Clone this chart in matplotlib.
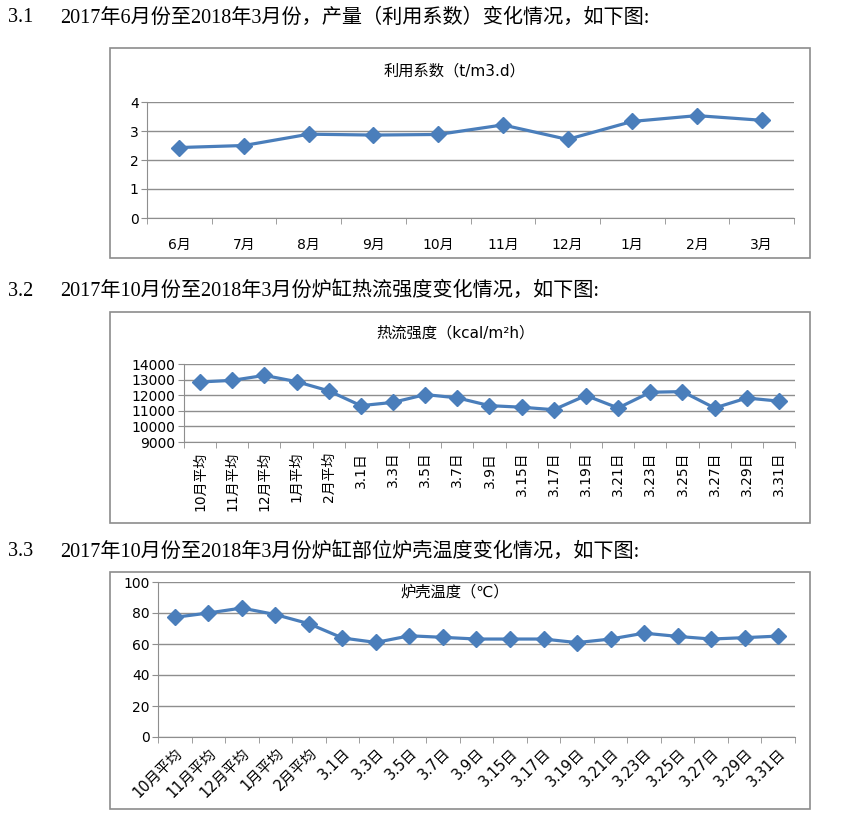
import matplotlib
matplotlib.use('Agg')
import matplotlib.pyplot as plt
from matplotlib.patches import Rectangle

W, H = 845, 814
BLUE = '#4A7EBB'
GRID = '#8e8e8e'
CJK = ['DejaVu Sans', 'Noto Sans CJK SC']
SERIF = ['Liberation Serif', 'Noto Sans CJK SC']

plt.rcParams['font.family'] = CJK

# chart 1: 利用系数
months1 = ['6月', '7月', '8月', '9月', '10月', '11月', '12月', '1月', '2月', '3月']
coef = [2.43, 2.50, 2.89, 2.86, 2.88, 3.21, 2.71, 3.33, 3.53, 3.37]

# chart 2 / 3 share categories
days = ['10月平均', '11月平均', '12月平均', '1月平均', '2月平均', '3.1日', '3.3日', '3.5日',
        '3.7日', '3.9日', '3.15日', '3.17日', '3.19日', '3.21日', '3.23日', '3.25日',
        '3.27日', '3.29日', '3.31日']
heat = [12850, 12950, 13270, 12870, 12280, 11330, 11540, 12040, 11830, 11330,
        11230, 11070, 11980, 11180, 12190, 12230, 11180, 11820, 11620]
temp = [77.2, 80, 83.2, 79.0, 73.1, 63.9, 61.0, 65.3, 64.3, 63.2,
        63.2, 63.2, 60.9, 63.2, 67.0, 64.9, 63.2, 64.1, 65.1]

fig = plt.figure(figsize=(W / 100, H / 100), dpi=100)


def px_axes(l, t, r, b):
    return fig.add_axes([l / W, 1 - b / H, (r - l) / W, (b - t) / H])


def frame(l, t, r, b):
    fig.patches.append(Rectangle((l / W, 1 - b / H), (r - l) / W, (b - t) / H,
                                 transform=fig.transFigure, fill=False,
                                 edgecolor='#8c8c8c', linewidth=1.2))


def style(ax, n, yticks):
    ax.set_xlim(-0.5, n - 0.5)
    ax.set_ylim(yticks[0], yticks[-1])
    ax.set_yticks(yticks)
    ax.grid(axis='y', color=GRID, linewidth=1)
    ax.set_axisbelow(True)
    for s in ['top', 'right']:
        ax.spines[s].set_visible(False)
    for s in ['left', 'bottom']:
        ax.spines[s].set_color(GRID)
    ax.set_xticks(range(n))
    ax.set_xticks([i - 0.5 for i in range(n + 1)], minor=True)
    ax.tick_params(axis='x', which='major', length=0)
    ax.tick_params(axis='x', which='minor', length=4, color=GRID, direction='out')
    ax.tick_params(axis='y', length=4, color=GRID, labelsize=10, pad=2)


def heading(y, num, text):
    fig.text(8 / W, 1 - y / H, num, family=SERIF, fontsize=14.5, va='center')
    fig.text(60 / W, 1 - y / H, text, family=SERIF, fontsize=14.5, va='center')


# ---- 3.1
heading(18, '3.1', '2017年6月份至2018年3月份，产量（利用系数）变化情况，如下图:')
frame(110, 48, 810, 258)
ax1 = px_axes(147, 102, 794, 218)
ax1.plot(range(len(coef)), coef, color=BLUE, lw=2.3, marker='D', ms=8.5, clip_on=False)
style(ax1, len(coef), [0, 1, 2, 3, 4])
ax1.set_xticklabels(months1, fontsize=10)
ax1.tick_params(axis='x', which='major', pad=14)
fig.text(455 / W, 1 - 71 / H, '利用系数（t/m3.d）', fontsize=11, ha='center', va='center')

# ---- 3.2
heading(291, '3.2', '2017年10月份至2018年3月份炉缸热流强度变化情况，如下图:')
frame(110, 312, 810, 523)
ax2 = px_axes(184, 364, 795, 442)
ax2.plot(range(len(heat)), heat, color=BLUE, lw=2.3, marker='D', ms=8, clip_on=False)
style(ax2, len(heat), [9000, 10000, 11000, 12000, 13000, 14000])
ax2.set_xticklabels(days, fontsize=10, rotation=90)
ax2.tick_params(axis='x', which='major', pad=7)
fig.text(455 / W, 1 - 333 / H, '热流强度（kcal/m²h）', fontsize=11, ha='center', va='center')

# ---- 3.3
heading(552, '3.3', '2017年10月份至2018年3月份炉缸部位炉壳温度变化情况，如下图:')
frame(110, 572, 810, 809)
ax3 = px_axes(158, 582, 795, 737)
ax3.plot(range(len(temp)), temp, color=BLUE, lw=2.3, marker='D', ms=8, clip_on=False)
style(ax3, len(temp), [0, 20, 40, 60, 80, 100])
ax3.set_xticklabels(days, fontsize=10.5, rotation=45, ha='right', rotation_mode='anchor')
ax3.tick_params(axis='x', which='major', pad=6)
fig.text(455 / W, 1 - 592 / H, '炉壳温度（℃）', fontsize=11, ha='center', va='center')

fig.savefig('out.png', dpi=100)
